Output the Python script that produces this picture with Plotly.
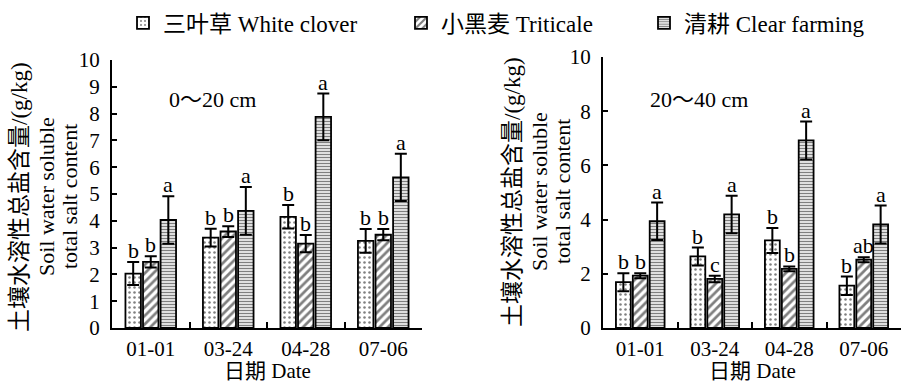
import plotly.graph_objects as go

# ---------------- data ----------------
dates = ["01-01", "03-24", "04-28", "07-06"]
treatments = ["三叶草 White clover", "小黑麦 Triticale", "清耕 Clear farming"]

# 0~20 cm layer (g/kg)
clover_0_20 = [2.03, 3.37, 4.15, 3.25]
clover_0_20_err = [0.43, 0.33, 0.44, 0.44]
triticale_0_20 = [2.47, 3.60, 3.15, 3.48]
triticale_0_20_err = [0.21, 0.20, 0.32, 0.21]
clear_0_20 = [4.03, 4.37, 7.88, 5.62]
clear_0_20_err = [0.89, 0.89, 0.87, 0.88]
letters_0_20 = [["b", "b", "b", "b"], ["b", "b", "b", "b"], ["a", "a", "a", "a"]]

# 20~40 cm layer (g/kg)
clover_20_40 = [1.69, 2.64, 3.23, 1.56]
clover_20_40_err = [0.33, 0.33, 0.46, 0.34]
triticale_20_40 = [1.93, 1.81, 2.18, 2.52]
triticale_20_40_err = [0.09, 0.12, 0.09, 0.09]
clear_20_40 = [3.94, 4.19, 6.92, 3.82]
clear_20_40_err = [0.69, 0.69, 0.70, 0.70]
letters_20_40 = [["b", "b", "b", "b"], ["b", "c", "b", "ab"], ["a", "a", "a", "a"]]

panel_labels = ["0～20 cm", "20～40 cm"]
y_title_cn = "土壤水溶性总盐含量/(g/kg)"
y_title_en1 = "Soil water soluble"
y_title_en2 = "total salt content"
x_title = "日期 Date"

# ---------------- style ----------------
FONT = "'Liberation Serif', 'Times New Roman', 'DejaVu Serif', 'Noto Sans CJK SC', serif"
patterns = [
    dict(shape=".", size=5, solidity=0.2, fgcolor="black", bgcolor="white"),
    dict(shape="/", size=6, solidity=0.45, fgcolor="black", bgcolor="white"),
    dict(shape="-", size=3, solidity=0.5, fgcolor="black", bgcolor="white"),
]
legend_names = ["legend", "legend2", "legend3"]
BARGAP = 0.32
SLOT = (1 - BARGAP) / 3

fig = go.Figure()

panels = [
    dict(vals=[clover_0_20, triticale_0_20, clear_0_20],
         errs=[clover_0_20_err, triticale_0_20_err, clear_0_20_err],
         letters=letters_0_20, xa="x", ya="y"),
    dict(vals=[clover_20_40, triticale_20_40, clear_20_40],
         errs=[clover_20_40_err, triticale_20_40_err, clear_20_40_err],
         letters=letters_20_40, xa="x2", ya="y2"),
]

annotations = []
for p_i, p in enumerate(panels):
    for t_i in range(3):
        fig.add_trace(go.Bar(
            x=dates, y=p["vals"][t_i], name=treatments[t_i],
            xaxis=p["xa"], yaxis=p["ya"],
            marker=dict(color="white", pattern=patterns[t_i],
                        line=dict(color="black", width=1.8)),
            error_y=dict(type="data", array=p["errs"][t_i], visible=True,
                         color="black", thickness=2, width=6),
            showlegend=(p_i == 0), legend=legend_names[t_i],
        ))
        for d_i in range(len(dates)):
            annotations.append(dict(
                x=d_i + (t_i - 1) * SLOT, y=p["vals"][t_i][d_i] + p["errs"][t_i][d_i],
                xref=p["xa"], yref=p["ya"], text=p["letters"][t_i][d_i],
                showarrow=False, yanchor="bottom", xanchor="center", yshift=-3,
                font=dict(family=FONT, size=22, color="black"),
            ))

# panel depth labels
annotations.append(dict(x=167 / 902, y=1 - 100 / 382, xref="paper", yref="paper",
                        text=panel_labels[0], showarrow=False, xanchor="left", yanchor="middle",
                        font=dict(family=FONT, size=22, color="black")))
annotations.append(dict(x=648 / 902, y=1 - 100 / 382, xref="paper", yref="paper",
                        text=panel_labels[1], showarrow=False, xanchor="left", yanchor="middle",
                        font=dict(family=FONT, size=22, color="black")))

# y-axis titles (three rotated lines) and x titles
for cx, cy, xc in [(20, 197, 267), (512, 192, 752)]:
    for dx, txt, fs in [(0, y_title_cn, 23), (27, y_title_en1, 22), (50, y_title_en2, 22)]:
        annotations.append(dict(x=(cx + dx) / 902, y=1 - cy / 382, xref="paper", yref="paper",
                                text=txt, textangle=-90, showarrow=False,
                                xanchor="center", yanchor="middle",
                                font=dict(family=FONT, size=fs, color="black")))
    annotations.append(dict(x=xc / 902, y=1 - 371 / 382, xref="paper", yref="paper",
                            text=x_title, showarrow=False, xanchor="center", yanchor="middle",
                            font=dict(family=FONT, size=21, color="black")))

axis_common = dict(showline=True, linecolor="black", linewidth=2, mirror=False,
                   showgrid=False, zeroline=False, ticks="inside", tickcolor="black",
                   tickwidth=2, automargin=False,
                   tickfont=dict(family=FONT, size=21, color="black"))

fig.update_layout(
    width=902, height=382,
    margin=dict(l=0, r=0, t=0, b=0, autoexpand=False),
    paper_bgcolor="white", plot_bgcolor="white",
    barmode="group", bargap=BARGAP, bargroupgap=0.12,
    font=dict(family=FONT, size=22, color="black"),
    xaxis=dict(domain=[112 / 902, 422 / 902], anchor="y", type="category",
               range=[-0.5, 3.5], tickson="boundaries", ticklen=6,
               ticklabelstandoff=1, ticklabeloverflow="allow", **axis_common),
    yaxis=dict(domain=[54 / 382, 322 / 382], anchor="x", range=[0, 10], dtick=1,
               ticklen=5, ticklabelstandoff=6, **axis_common),
    xaxis2=dict(domain=[603 / 902, 901 / 902], anchor="y2", type="category",
                range=[-0.5, 3.5], tickson="boundaries", ticklen=6,
                ticklabelstandoff=1, ticklabeloverflow="allow", **axis_common),
    yaxis2=dict(domain=[54 / 382, 325 / 382], anchor="x2", range=[0, 10], dtick=2,
                ticklen=5, ticklabelstandoff=6, **axis_common),
    annotations=annotations,
)
for ln, lx in zip(legend_names, [123, 401, 644]):
    fig.update_layout({ln: dict(x=lx / 902, y=1 - 23 / 382, xref="container", yref="container",
                                xanchor="left", yanchor="middle",
                                orientation="h", bgcolor="rgba(0,0,0,0)",
                                font=dict(family=FONT, size=23, color="black"))})

fig.write_html("out.html", config={"displayModeBar": False},
               post_script="document.body.style.margin='0';document.body.style.padding='0';")
